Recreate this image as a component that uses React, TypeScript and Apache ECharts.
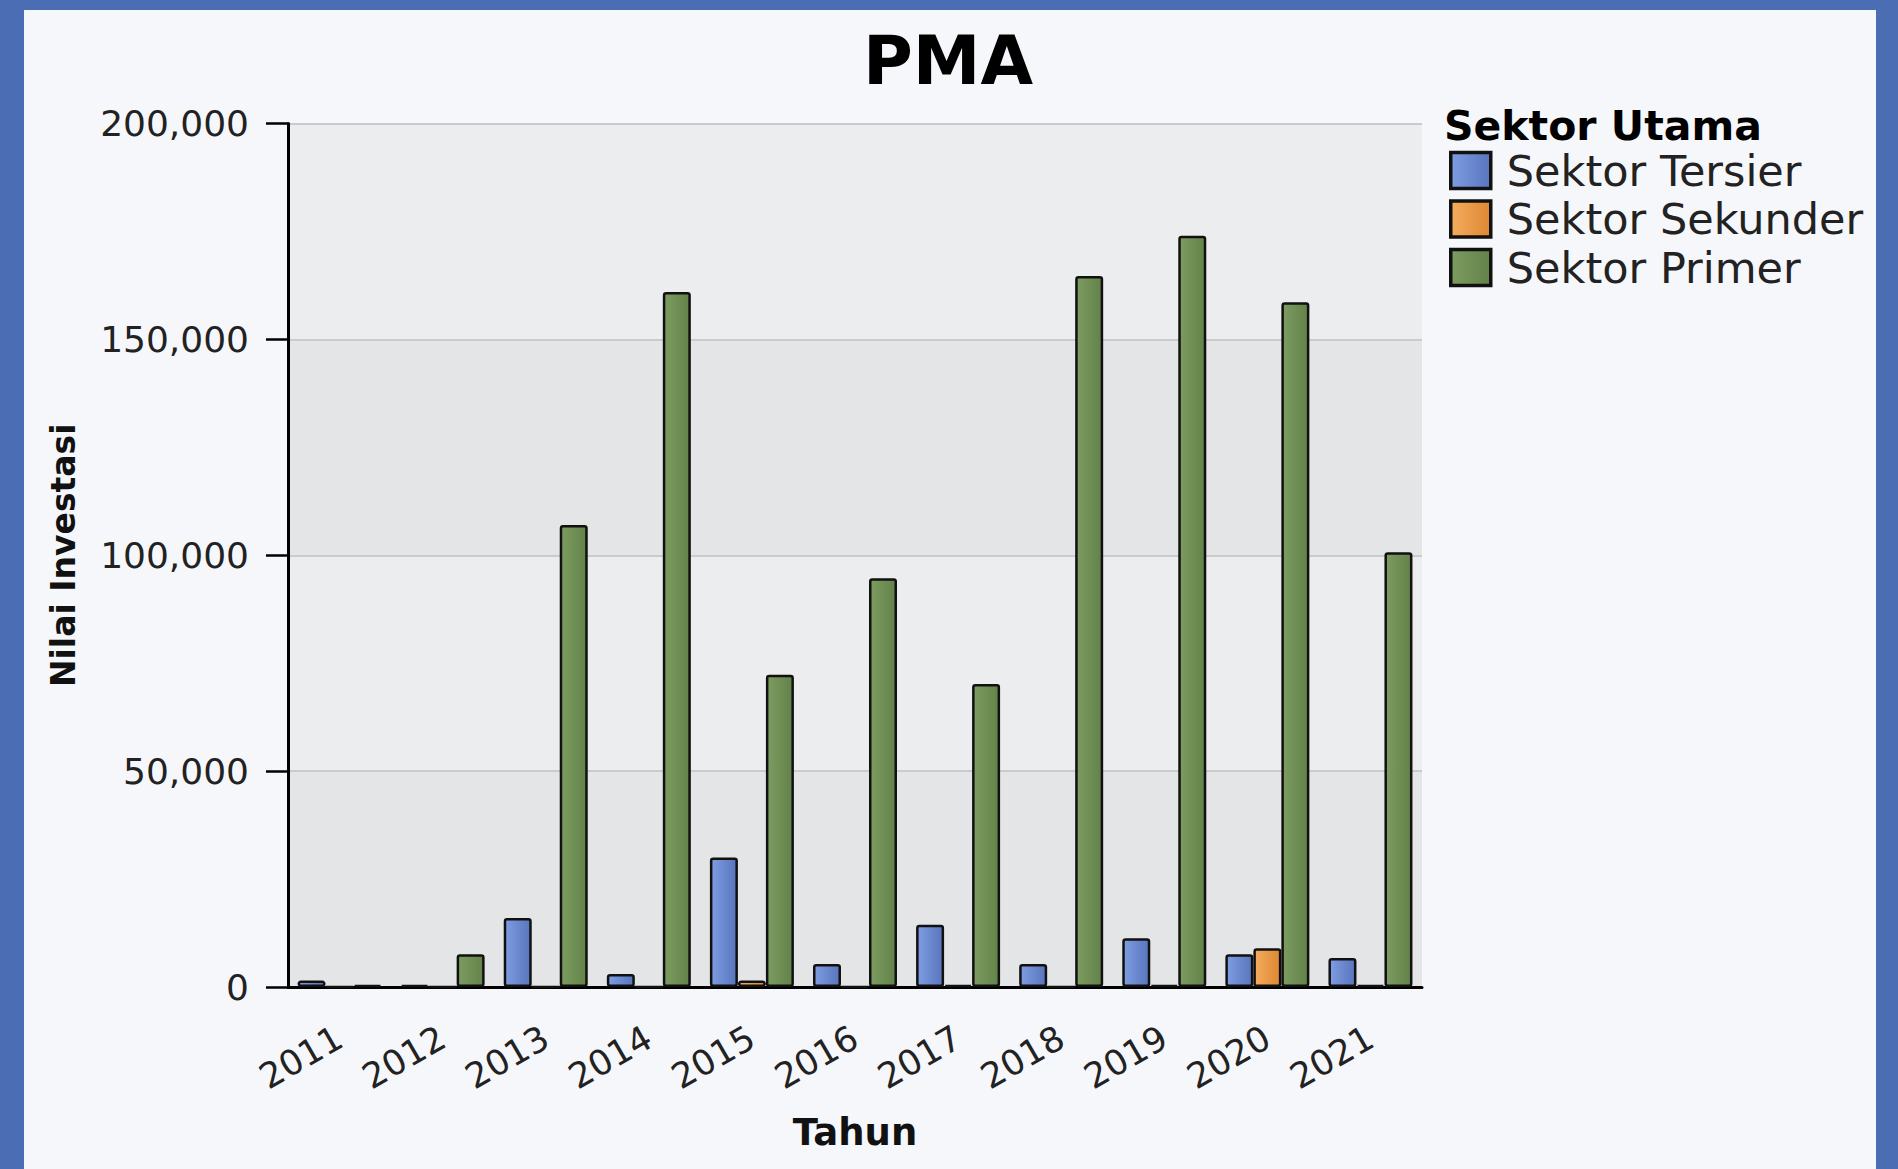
import React, { useEffect, useRef } from "react";
import * as echarts from "echarts";

const years = ["2011", "2012", "2013", "2014", "2015", "2016", "2017", "2018", "2019", "2020", "2021"];
const tersier = [1500, 500, 16000, 3000, 30000, 5300, 14400, 5300, 11300, 7600, 6700];
const sekunder = [0, 0, 0, 0, 1500, 0, 500, 0, 500, 9000, 500];
const primer = [500, 7600, 107000, 161000, 72300, 94700, 70200, 164700, 174000, 158600, 100700];
const seriesNames = ["Sektor Tersier", "Sektor Sekunder", "Sektor Primer"];
const chartTitle = "PMA";
const legendTitle = "Sektor Utama";
const xName = "Tahun";
const yName = "Nilai Investasi";

const FONT = "DejaVu Sans";

function fmt(v: number) {
  return String(v).replace(/\B(?=(\d{3})+(?!\d))/g, ",");
}

export default function App() {
  const ref = useRef<HTMLDivElement>(null);
  useEffect(() => {
    const chart = echarts.init(ref.current!, null, { renderer: "svg" });
    const grad = (a: string, b: string) =>
      new echarts.graphic.LinearGradient(0, 0, 1, 0, [
        { offset: 0, color: a },
        { offset: 1, color: b },
      ]);
    const barItem = (a: string, b: string) => ({
      color: grad(a, b),
      borderColor: "#111",
      borderWidth: 2.5,
      borderRadius: 2,
    });
    chart.setOption({
      animation: false,
      backgroundColor: "transparent",
      textStyle: { fontFamily: FONT },
      graphic: [
        {
          type: "text",
          x: 948,
          y: 60,
          style: {
            text: chartTitle,
            fontSize: 68,
            fontWeight: "bold",
            fontFamily: FONT,
            fill: "#000",
            align: "center",
            verticalAlign: "middle",
          },
        },
        {
          type: "text",
          x: 1444,
          y: 126,
          style: {
            text: legendTitle,
            fontSize: 41,
            fontWeight: "bold",
            fontFamily: FONT,
            fill: "#000",
            align: "left",
            verticalAlign: "middle",
          },
        },
      ],
      legend: {
        orient: "vertical",
        left: 1449,
        top: 149,
        padding: 0,
        itemWidth: 40,
        itemHeight: 36,
        itemGap: 5.5,
        icon: "rect",
        data: seriesNames,
        itemStyle: { borderColor: "#111", borderWidth: 3.5 },
        textStyle: {
          fontSize: 43,
          color: "#222",
          fontFamily: FONT,
          padding: [0, 0, 0, 11],
        },
      },
      grid: { left: 288, right: 476, top: 123.5, bottom: 182, containLabel: false },
      xAxis: {
        type: "category",
        data: years,
        axisLine: { lineStyle: { color: "#000", width: 3 } },
        axisTick: { alignWithLabel: true, length: 20, lineStyle: { color: "#000", width: 2.5 } },
        axisLabel: { rotate: 30, fontSize: 35, color: "#222", margin: 48, interval: 0, fontFamily: FONT },
        name: xName,
        nameLocation: "middle",
        nameGap: 127,
        nameTextStyle: { fontSize: 37, fontWeight: "bold", color: "#111", fontFamily: FONT },
      },
      yAxis: {
        type: "value",
        min: 0,
        max: 200000,
        interval: 50000,
        axisLine: { show: true, lineStyle: { color: "#000", width: 3 } },
        axisTick: { show: true, length: 22, lineStyle: { color: "#000", width: 2.5 } },
        axisLabel: { fontSize: 36, color: "#222", margin: 39, formatter: (v: number) => fmt(v), fontFamily: FONT },
        splitLine: { lineStyle: { color: "#cbcbcb", width: 2 } },
        splitArea: { show: true, areaStyle: { color: ["#e4e5e7", "#ecedef"] } },
        name: yName,
        nameLocation: "middle",
        nameGap: 208,
        nameRotate: 90,
        nameTextStyle: { fontSize: 33, fontWeight: "bold", color: "#111", fontFamily: FONT },
      },
      series: [
        {
          name: seriesNames[0],
          type: "bar",
          data: tersier,
          barWidth: 28,
          barGap: "0%",
          itemStyle: barItem("#7f9de2", "#5875bd"),
        },
        {
          name: seriesNames[1],
          type: "bar",
          data: sekunder,
          barWidth: 28,
          barGap: "0%",
          itemStyle: barItem("#f5ad5f", "#dd8732"),
        },
        {
          name: seriesNames[2],
          type: "bar",
          data: primer,
          barWidth: 28,
          barGap: "0%",
          itemStyle: barItem("#7c9c60", "#62824a"),
        },
      ],
    });
    return () => chart.dispose();
  }, []);
  return (
    <div style={{ position: "fixed", left: 0, top: 0, width: 1898, height: 1169, background: "#4a6db4" }}>
      <div style={{ position: "absolute", left: 24, top: 10, width: 1852, height: 1159, background: "#f6f7fb" }} />
      <div ref={ref} style={{ position: "absolute", left: 0, top: 0, width: 1898, height: 1169 }} />
    </div>
  );
}
